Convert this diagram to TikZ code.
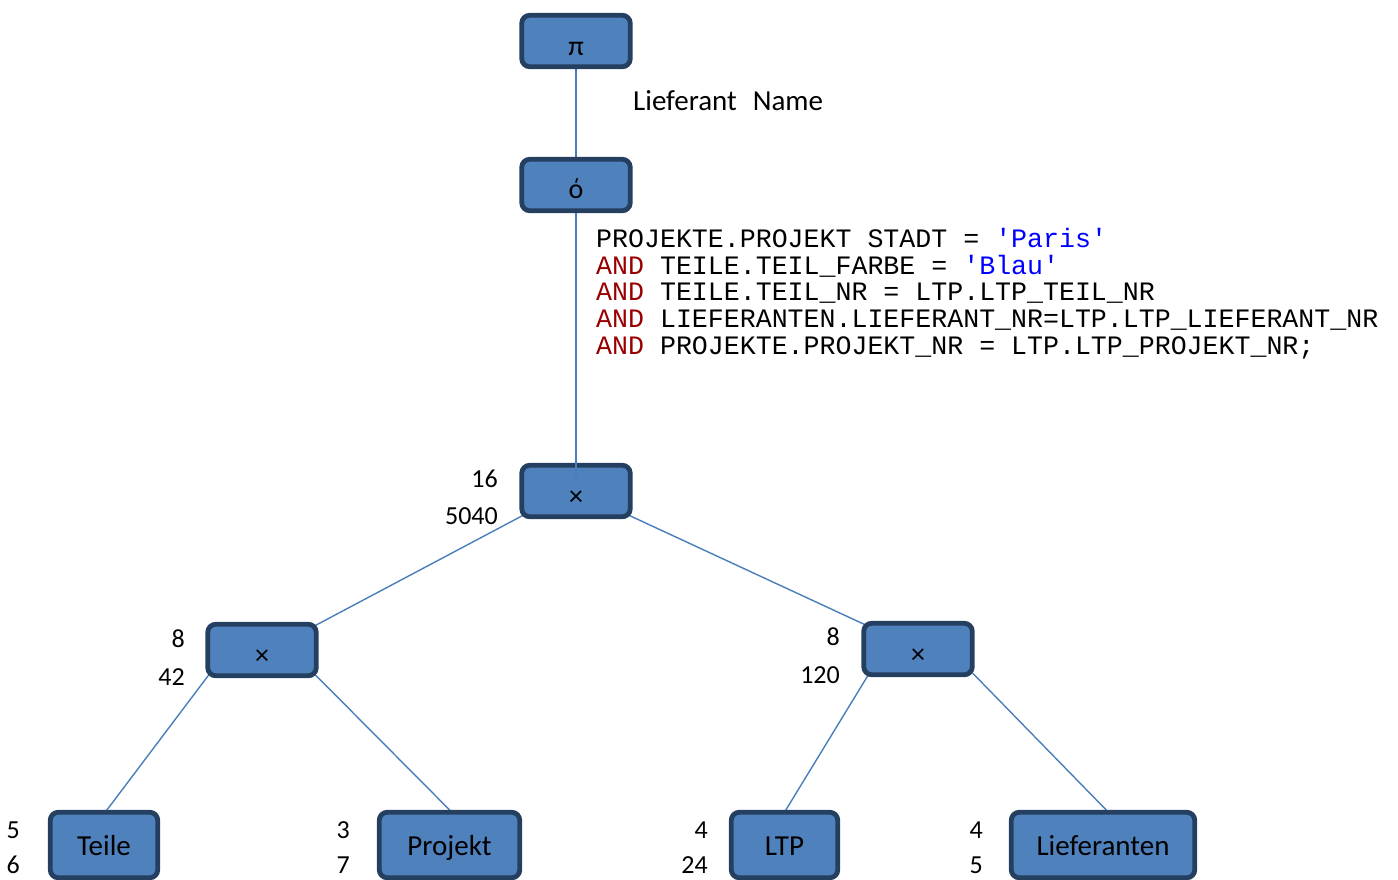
\documentclass[tikz,border=0pt]{standalone}
\usepackage{fontspec}
\setmainfont{Carlito}
\setmonofont{Liberation Mono}
\usetikzlibrary{backgrounds}
\definecolor{boxfill}{HTML}{4F81BD}
\definecolor{boxdraw}{HTML}{243F60}
\definecolor{linkc}{HTML}{4A7EBB}
\definecolor{kw}{HTML}{990000}
\definecolor{strc}{HTML}{0000FF}
\begin{document}
\begin{tikzpicture}[x=1pt,y=-1pt,
  opbox/.style={draw=boxdraw, fill=boxfill, line width=4.8pt, rounded corners=8pt,
    minimum width=108.5pt, minimum height=51.5pt, inner sep=0pt,
    text height=28pt, text depth=0pt,
    font=\fontsize{28}{30}\selectfont},
  leafbox/.style={opbox, minimum height=65.5pt, text height=23pt, text depth=3pt,
    font=\fontsize{29}{31}\selectfont},
  link/.style={draw=linkc, line width=1.4pt},
  num/.style={anchor=base east, inner sep=0pt, font=\fontsize{26}{28}\selectfont},
  lbl/.style={anchor=base west, inner sep=0pt, font=\fontsize{29}{31}\selectfont},
  sql/.style={anchor=base west, inner sep=0pt, font=\ttfamily\fontsize{26.6}{26.8}\selectfont}]
\useasboundingbox (0,0) rectangle (1398,879);

% operator boxes
\node[opbox] (pi) at (576,41) {π};
\node[opbox, text height=26pt] (sigma) at (576,185) {ό};
\node[opbox] (x0) at (576,491) {×};
\node[opbox] (x1) at (262,650) {×};
\node[opbox] (x2) at (918,649) {×};

% leaf boxes
\node[leafbox, minimum width=107.5pt] (teile) at (104,845) {Teile};
\node[leafbox, minimum width=140.5pt] (projekt) at (449.5,845) {Projekt};
\node[leafbox, minimum width=106.5pt] (ltp) at (784.5,845) {LTP};
\node[leafbox, minimum width=183.5pt] (lief) at (1103,845) {Lieferanten};

% connectors
\begin{scope}[on background layer]
  \draw[link] (pi.center) -- (sigma.center);
  \draw[link] ([shift={(4,-4)}]x0.south west) -- ([shift={(-4,4)}]x1.north east);
  \draw[link] ([shift={(-4,-4)}]x0.south east) -- ([shift={(4,4)}]x2.north west);
  \draw[link] ([shift={(4,-4)}]x1.south west) -- ([shift={(0,4)}]teile.north);
  \draw[link] ([shift={(-4,-4)}]x1.south east) -- ([shift={(4,4)}]projekt.north);
  \draw[link] ([shift={(8,-4)}]x2.south west) -- ([shift={(-1,4)}]ltp.north);
  \draw[link] ([shift={(-2,-4)}]x2.south east) -- ([shift={(7,4)}]lief.north);
\end{scope}
\draw[link, shorten >=7pt] (sigma.south) -- (x0.center);

% projection label
\node[lbl] (projlbl) at (633,110) {Lieferant\hspace*{16pt}Name};

% selection condition
\node[sql] (sql1) at (596,247.5) {PROJEKTE.PROJEKT STADT = \textcolor{strc}{'Paris'}};
\node[sql] (sql2) at (596,274.2) {\textcolor{kw}{AND} TEILE.TEIL\_FARBE = \textcolor{strc}{'Blau'}};
\node[sql] (sql3) at (596,300.9) {\textcolor{kw}{AND} TEILE.TEIL\_NR = LTP.LTP\_TEIL\_NR};
\node[sql] (sql4) at (596,327.6) {\textcolor{kw}{AND} LIEFERANTEN.LIEFERANT\_NR=LTP.LTP\_LIEFERANT\_NR};
\node[sql] (sql5) at (596,354.3) {\textcolor{kw}{AND} PROJEKTE.PROJEKT\_NR = LTP.LTP\_PROJEKT\_NR;};

% numbers
\node[num] (n0a) at (498,487) {16};
\node[num] (n0b) at (498,524) {5040};
\node[num] (n1a) at (185,647) {8};
\node[num] (n1b) at (185,685) {42};
\node[num] (n2a) at (840,645) {8};
\node[num] (n2b) at (840,683) {120};
\node[num] (nta) at (20,838) {5};
\node[num] (ntb) at (20,873) {6};
\node[num] (npa) at (350,838) {3};
\node[num] (npb) at (350,873) {7};
\node[num] (nla) at (708,838) {4};
\node[num] (nlb) at (708,873) {24};
\node[num] (nfa) at (983,838) {4};
\node[num] (nfb) at (983,873) {5};
\end{tikzpicture}
\end{document}
